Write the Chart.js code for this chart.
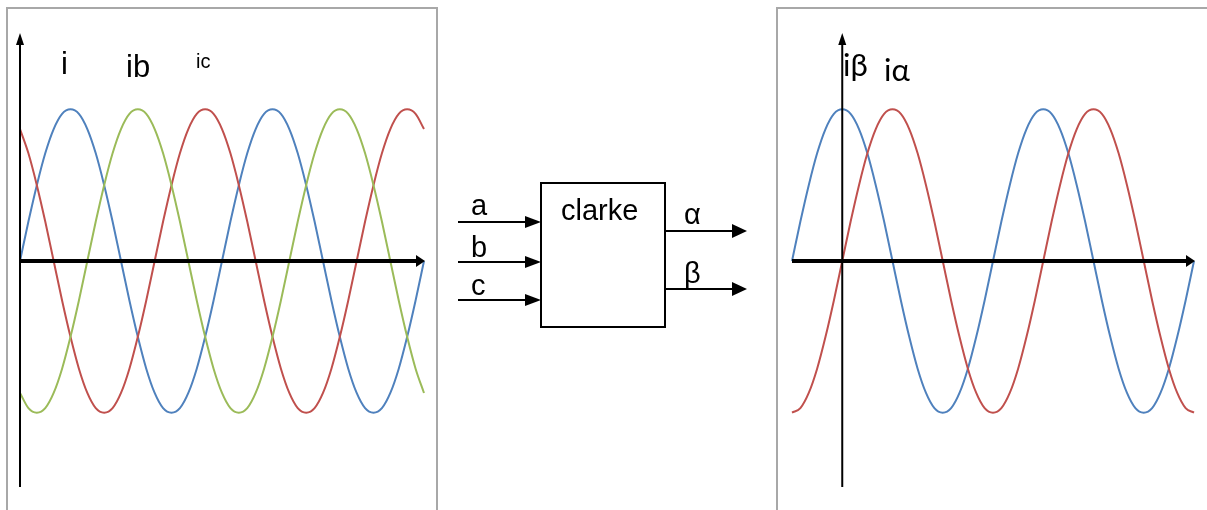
<!DOCTYPE html>
<html>
<head>
<meta charset="utf-8">
<script src="https://cdn.jsdelivr.net/npm/chart.js@4/dist/chart.umd.min.js"></script>
<style>
  html, body { margin: 0; padding: 0; background: #ffffff; }
  body { width: 1207px; height: 510px; position: relative; overflow: hidden; }
  .panel { position: absolute; border: 2px solid #a8a8a8; box-sizing: border-box; }
  canvas { position: absolute; top: 0; }
  svg { position: absolute; left: 0; top: 0; }
</style>
</head>
<body>
<div class="panel" style="left:6px; top:7px; width:432px; height:520px;"></div>
<div class="panel" style="left:776px; top:7px; width:450px; height:520px;"></div>
<canvas id="left" width="440" height="510" style="left:0px;"></canvas>
<canvas id="right" width="437" height="510" style="left:770px;"></canvas>
<svg width="1207" height="510" xmlns="http://www.w3.org/2000/svg">
  <g font-family="'Liberation Sans', Arial, sans-serif" fill="#000">
    <text x="61" y="74" font-size="31">i</text>
    <text x="126" y="77" font-size="31">ib</text>
    <text x="196" y="68" font-size="20">ic</text>
  </g>
  <g font-family="Lato, 'Open Sans', sans-serif" fill="#000">
    <text x="843" y="76" font-size="31">iβ</text>
    <text x="884" y="81" font-size="31">iα</text>
  </g>
  <rect x="541" y="183" width="124" height="144" fill="none" stroke="#000" stroke-width="2"/>
  <g stroke="#000" stroke-width="2">
    <line x1="458" y1="222" x2="528" y2="222"/>
    <line x1="458" y1="262" x2="528" y2="262"/>
    <line x1="458" y1="300" x2="528" y2="300"/>
    <line x1="665" y1="231" x2="735" y2="231"/>
    <line x1="665" y1="289" x2="735" y2="289"/>
  </g>
  <g fill="#000">
    <polygon points="525,216 541,222 525,228"/>
    <polygon points="525,256 541,262 525,268"/>
    <polygon points="525,294 541,300 525,306"/>
    <polygon points="732,224 747,231 732,238"/>
    <polygon points="732,282 747,289 732,296"/>
  </g>
  <g font-family="'Liberation Sans', Arial, sans-serif" font-size="29" fill="#000">
    <text x="561" y="220">clarke</text>
    <text x="471" y="215">a</text>
    <text x="471" y="257">b</text>
    <text x="471" y="295">c</text>
    <text x="684" y="224">α</text>
    <text x="684" y="283">β</text>
  </g>
</svg>
<script>
// angle (degrees) sampled every 15°
const angles = [0,15,30,45,60,75,90,105,120,135,150,165,180,195,210,225,240,255,270,285,300,315,330,345,
                360,375,390,405,420,435,450,465,480,495,510,525,540,555,570,585,600,615,630,645,660,675,690,705,720];

// three-phase currents (left)
const ia = [0,.26,.5,.71,.87,.97,1,.97,.87,.71,.5,.26,0,-.26,-.5,-.71,-.87,-.97,-1,-.97,-.87,-.71,-.5,-.26,
            0,.26,.5,.71,.87,.97,1,.97,.87,.71,.5,.26,0,-.26,-.5,-.71,-.87,-.97,-1,-.97,-.87,-.71,-.5,-.26,0];
const ib = [-.87,-.97,-1,-.97,-.87,-.71,-.5,-.26,0,.26,.5,.71,.87,.97,1,.97,.87,.71,.5,.26,0,-.26,-.5,-.71,
            -.87,-.97,-1,-.97,-.87,-.71,-.5,-.26,0,.26,.5,.71,.87,.97,1,.97,.87,.71,.5,.26,0,-.26,-.5,-.71,-.87];
const ic = [.87,.71,.5,.26,0,-.26,-.5,-.71,-.87,-.97,-1,-.97,-.87,-.71,-.5,-.26,0,.26,.5,.71,.87,.97,1,.97,
            .87,.71,.5,.26,0,-.26,-.5,-.71,-.87,-.97,-1,-.97,-.87,-.71,-.5,-.26,0,.26,.5,.71,.87,.97,1,.97,.87];

// two-phase currents (right)
const iBeta  = [0,.26,.5,.71,.87,.97,1,.97,.87,.71,.5,.26,0,-.26,-.5,-.71,-.87,-.97,-1,-.97,-.87,-.71,-.5,-.26,
                0,.26,.5,.71,.87,.97,1,.97,.87,.71,.5,.26,0,-.26,-.5,-.71,-.87,-.97,-1,-.97,-.87,-.71,-.5,-.26,0];
const iAlpha = [-1,-.97,-.87,-.71,-.5,-.26,0,.26,.5,.71,.87,.97,1,.97,.87,.71,.5,.26,0,-.26,-.5,-.71,-.87,-.97,
                -1,-.97,-.87,-.71,-.5,-.26,0,.26,.5,.71,.87,.97,1,.97,.87,.71,.5,.26,0,-.26,-.5,-.71,-.87,-.97,-1];

const BLUE = '#4f81bd', RED = '#c0504d', GREEN = '#9bbb59';
const Y_MIN = -1.49, Y_MAX = 1.49;

function axesPlugin(yAxisAngle) {
  return {
    id: 'axesArrows',
    afterDatasetsDraw(chart) {
      const {ctx, chartArea, scales} = chart;
      const x0 = scales.x.getPixelForValue(angles.indexOf(yAxisAngle));
      const y0 = scales.y.getPixelForValue(0);
      ctx.save();
      ctx.fillStyle = '#000';
      ctx.strokeStyle = '#000';
      // vertical axis
      ctx.lineWidth = 2;
      ctx.beginPath();
      ctx.moveTo(x0, chartArea.bottom);
      ctx.lineTo(x0, chartArea.top + 8);
      ctx.stroke();
      ctx.beginPath();
      ctx.moveTo(x0, chartArea.top - 2);
      ctx.lineTo(x0 - 4, chartArea.top + 10);
      ctx.lineTo(x0 + 4, chartArea.top + 10);
      ctx.closePath();
      ctx.fill();
      // horizontal axis
      ctx.lineWidth = 4;
      ctx.beginPath();
      ctx.moveTo(chartArea.left, y0);
      ctx.lineTo(chartArea.right - 6, y0);
      ctx.stroke();
      ctx.beginPath();
      ctx.moveTo(chartArea.right + 1, y0);
      ctx.lineTo(chartArea.right - 8, y0 - 6);
      ctx.lineTo(chartArea.right - 8, y0 + 6);
      ctx.closePath();
      ctx.fill();
      ctx.restore();
    }
  };
}

function makeChart(id, datasets, padding, yAxisAngle) {
  return new Chart(document.getElementById(id), {
    type: 'line',
    data: {
      labels: angles,
      datasets: datasets.map(d => ({
        data: d.data, borderColor: d.color, borderWidth: 2,
        pointRadius: 0, cubicInterpolationMode: 'monotone', fill: false, clip: 4
      }))
    },
    options: {
      responsive: false,
      animation: false,
      devicePixelRatio: 1,
      layout: { padding },
      plugins: { legend: { display: false }, tooltip: { enabled: false } },
      scales: {
        x: { display: false, type: 'category', offset: false },
        y: { display: false, min: Y_MIN, max: Y_MAX }
      }
    },
    plugins: [axesPlugin(yAxisAngle)]
  });
}

makeChart('left', [
  {data: ib, color: GREEN},
  {data: ic, color: RED},
  {data: ia, color: BLUE}
], {left: 20, right: 16, top: 35, bottom: 23}, 0);

makeChart('right', [
  {data: iAlpha, color: RED},
  {data: iBeta, color: BLUE}
], {left: 22, right: 13, top: 35, bottom: 23}, 90);
</script>
</body>
</html>
